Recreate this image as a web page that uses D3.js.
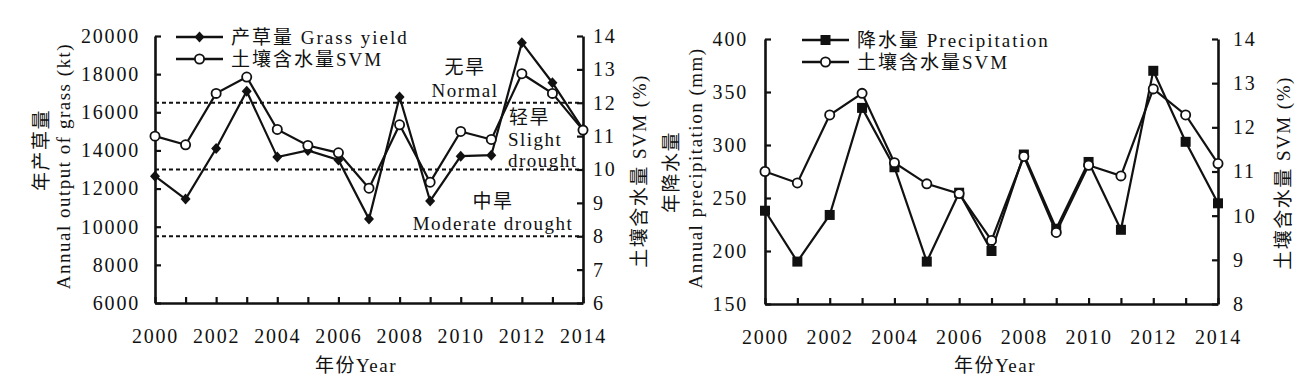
<!DOCTYPE html>
<html>
<head>
<meta charset="utf-8">
<script src="https://cdn.jsdelivr.net/npm/d3@7"></script>
<style>
  body { margin: 0; background: #fff; }
  svg text { font-family: "Liberation Serif", "Times New Roman", "Noto Sans CJK SC", serif; fill: #111; }
</style>
</head>
<body>
<div id="chart"></div>
<script>
// data
const years = [2000, 2001, 2002, 2003, 2004, 2005, 2006, 2007, 2008, 2009, 2010, 2011, 2012, 2013, 2014];
const grassYield = [12650, 11450, 14100, 17100, 13650, 14000, 13500, 10400, 16800, 11350, 13700, 13750, 19650, 17550, 15100];
const svm = [11.0, 10.74, 12.28, 12.77, 11.2, 10.72, 10.5, 9.44, 11.34, 9.62, 11.14, 10.9, 12.87, 12.28, 11.18];
const precipitation = [238, 190, 234, 335, 279, 190, 255, 200, 291, 221, 284, 220, 370, 303, 245];

const xTickLabels = [2000, 2002, 2004, 2006, 2008, 2010, 2012, 2014];
const grassTicks = [6000, 8000, 10000, 12000, 14000, 16000, 18000, 20000];
const svmTicksA = [6, 7, 8, 9, 10, 11, 12, 13, 14];
const precipTicks = [150, 200, 250, 300, 350, 400];
const svmTicksB = [8, 9, 10, 11, 12, 13, 14];
const droughtLines = [12, 10, 8]; // SVM thresholds (%)

const W = 1312, H = 381;
const svg = d3.select("#chart").append("svg").attr("width", W).attr("height", H);

function axisStyle(g){
  g.select(".domain").attr("stroke", "#111").attr("stroke-width", 2.6);
  g.selectAll(".tick line").attr("stroke", "#111").attr("stroke-width", 2.2);
  g.selectAll(".tick text").attr("font-size", "20px").attr("letter-spacing", "1.8px").attr("fill", "#111");
}

function diamond(sel, x, y){
  sel.append("path").attr("d", `M${x},${y-5.5}L${x+5},${y}L${x},${y+5.5}L${x-5},${y}Z`).attr("fill", "#111");
}

function drawPanel(p){
  const g = svg.append("g");
  const x = d3.scaleLinear().domain([2000, 2014]).range([p.l, p.r]);
  const yL = d3.scaleLinear().domain(p.leftDomain).range([p.b, p.t]);
  const yR = d3.scaleLinear().domain(p.rightDomain).range([p.b, p.t]);

  // dashed drought levels
  if (p.levels) {
    g.selectAll("line.level").data(p.levels).enter().append("line")
      .attr("x1", p.l).attr("x2", p.r)
      .attr("y1", d => yR(d)).attr("y2", d => yR(d))
      .attr("stroke", "#111").attr("stroke-width", 2).attr("stroke-dasharray", "4,3");
  }

  // axes
  g.append("g").attr("transform", `translate(0,${p.b})`)
    .call(d3.axisBottom(x).tickValues(years).tickSizeInner(-6).tickSizeOuter(0).tickPadding(26)
      .tickFormat(d => xTickLabels.includes(d) ? String(d) : ""))
    .call(axisStyle);
  g.append("g").attr("transform", `translate(${p.l},0)`)
    .call(d3.axisLeft(yL).tickValues(p.leftTicks).tickSizeInner(-6).tickSizeOuter(0).tickPadding(p.lPad)
      .tickFormat(d => String(d)))
    .call(axisStyle);
  g.append("g").attr("transform", `translate(${p.r},0)`)
    .call(d3.axisRight(yR).tickValues(p.rightTicks).tickSizeInner(-6).tickSizeOuter(0).tickPadding(p.rPad)
      .tickFormat(d => String(d)))
    .call(axisStyle);

  // main series on left axis
  const line = d3.line().x((d, i) => x(years[i])).y(d => yL(d));
  g.append("path").datum(p.main).attr("d", line).attr("fill", "none").attr("stroke", "#111").attr("stroke-width", 2.2);
  p.main.forEach((v, i) => {
    if (p.marker === "diamond") diamond(g, x(years[i]), yL(v));
    else g.append("rect").attr("x", x(years[i]) - 5).attr("y", yL(v) - 5).attr("width", 10).attr("height", 10).attr("fill", "#111");
  });

  // SVM on right axis
  const line2 = d3.line().x((d, i) => x(years[i])).y(d => yR(d));
  g.append("path").datum(svm).attr("d", line2).attr("fill", "none").attr("stroke", "#111").attr("stroke-width", 2.2);
  g.selectAll("circle.svm").data(svm).enter().append("circle")
    .attr("cx", (d, i) => x(years[i])).attr("cy", d => yR(d)).attr("r", 4.6)
    .attr("fill", "#fff").attr("stroke", "#111").attr("stroke-width", 1.8);

  // legend
  const lg = g.append("g");
  [[p.legend[0], p.legY[0], p.marker], [p.legend[1], p.legY[1], "circle"]].forEach(([txt, ly, m]) => {
    lg.append("line").attr("x1", p.legX).attr("x2", p.legX + 47).attr("y1", ly).attr("y2", ly)
      .attr("stroke", "#111").attr("stroke-width", 2.4);
    const cx = p.legX + 23.5;
    if (m === "diamond") diamond(lg, cx, ly);
    else if (m === "square") lg.append("rect").attr("x", cx - 5).attr("y", ly - 5).attr("width", 10).attr("height", 10).attr("fill", "#111");
    else lg.append("circle").attr("cx", cx).attr("cy", ly).attr("r", 4.6).attr("fill", "#fff").attr("stroke", "#111").attr("stroke-width", 1.8);
    lg.append("text").attr("x", p.legX + 55).attr("y", ly).attr("dy", "0.35em")
      .attr("font-size", "19px").attr("letter-spacing", "2px").attr("fill", "#222").text(txt);
  });

  // axis titles
  p.leftTitles.forEach(([txt, tx, ty]) => {
    g.append("text").attr("transform", `translate(${tx},${ty}) rotate(-90)`)
      .attr("text-anchor", "middle").attr("dy", "0.35em")
      .attr("font-size", "19px").attr("letter-spacing", "1.5px").attr("fill", "#333").text(txt);
  });
  g.append("text").attr("transform", `translate(${p.rightTitle[1]},${p.rightTitle[2]}) rotate(-90)`)
    .attr("text-anchor", "middle").attr("dy", "0.35em")
    .attr("font-size", "19px").attr("letter-spacing", "1.5px").attr("fill", "#333").text(p.rightTitle[0]);
  g.append("text").attr("x", p.xTitleX).attr("y", 365).attr("dy", "0.35em").attr("text-anchor", "middle")
    .attr("font-size", "19px").attr("letter-spacing", "1.5px").attr("fill", "#333").text("年份Year");
  return g;
}

const left = drawPanel({
  l: 155, r: 583, t: 36, b: 303,
  leftDomain: [6000, 20000], rightDomain: [6, 14],
  leftTicks: grassTicks, rightTicks: svmTicksA, lPad: 15, rPad: 10,
  main: grassYield, marker: "diamond", levels: droughtLines,
  legend: ["产草量 Grass yield", "土壤含水量SVM"], legX: 176, legY: [37, 59],
  leftTitles: [["年产草量", 41, 150], ["Annual output of grass (kt)", 63, 166]],
  rightTitle: ["土壤含水量 SVM (%)", 639, 171],
  xTitleX: 356
});

// drought class annotations
const notes = [
  ["无旱", 465, 67, "middle"], ["Normal", 465, 90, "middle"],
  ["轻旱", 509, 117, "start"], ["Slight", 508, 139, "start"], ["drought", 508, 160, "start"],
  ["中旱", 493, 201, "middle"], ["Moderate drought", 493, 223, "middle"]
];
notes.forEach(([txt, nx, ny, anchor]) => {
  left.append("text").attr("x", nx).attr("y", ny).attr("dy", "0.35em").attr("text-anchor", anchor)
    .attr("font-size", "19px").attr("letter-spacing", "1.5px").attr("fill", "#333").text(txt);
});

drawPanel({
  l: 765, r: 1218, t: 39, b: 304,
  leftDomain: [150, 400], rightDomain: [8, 14],
  leftTicks: precipTicks, rightTicks: svmTicksB, lPad: 17, rPad: 15,
  main: precipitation, marker: "square", levels: null,
  legend: ["降水量 Precipitation", "土壤含水量SVM"], legX: 802, legY: [40, 62],
  leftTitles: [["年降水量", 671, 172], ["Annual precipitation (mm)", 695, 168]],
  rightTitle: ["土壤含水量 SVM (%)", 1283, 173],
  xTitleX: 995
});
</script>
</body>
</html>
